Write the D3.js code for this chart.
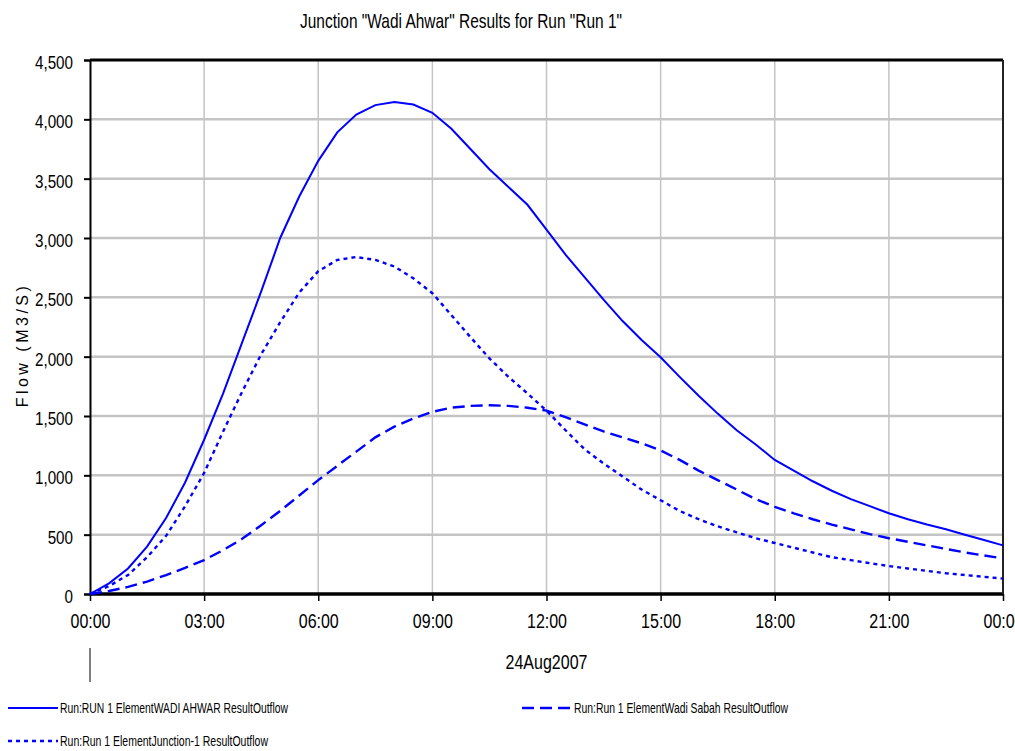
<!DOCTYPE html>
<html>
<head>
<meta charset="utf-8">
<script src="https://cdn.jsdelivr.net/npm/d3@7"></script>
<style>
  body { margin: 0; background: #fff; }
  svg text { font-family: "Liberation Sans Narrow", "Arial Narrow", "Liberation Sans", sans-serif; fill: #000; }
</style>
</head>
<body>
<div id="chart"></div>
<script>
// time in hours since 00:00 on 24Aug2007
var hours = [0,0.5,1,1.5,2,2.5,3,3.5,4,4.5,5,5.5,6,6.5,7,7.5,8,8.5,9,9.5,10,10.5,11,11.5,12,
             12.5,13,13.5,14,14.5,15,15.5,16,16.5,17,17.5,18,18.5,19,19.5,20,20.5,21,21.5,22,22.5,23,23.5,24];

// Run:RUN 1 Element WADI AHWAR (solid)
var wadiAhwar = [0,90,215,400,640,940,1300,1690,2120,2550,3000,3350,3650,3890,4040,4120,4145,4125,4055,3920,3750,3580,3430,3280,3070,
                 2860,2670,2480,2300,2140,1995,1830,1670,1520,1380,1260,1130,1040,950,870,800,740,680,630,585,545,500,455,410];

// Run:Run 1 Element Wadi Sabah (long dash)
var wadiSabah = [0,25,60,105,160,220,286,370,465,580,700,830,960,1080,1200,1320,1410,1480,1535,1570,1585,1590,1585,1570,1545,
                 1490,1430,1370,1320,1270,1210,1130,1040,960,880,800,735,680,630,585,545,505,470,440,410,380,350,325,300];

// Run:Run 1 Element Junction-1 (dotted)
var junction1 = [0,67,160,310,490,740,1020,1370,1705,2020,2290,2540,2720,2815,2840,2815,2760,2660,2535,2350,2165,1985,1830,1690,1545,
                 1380,1220,1100,990,880,790,700,630,570,520,470,430,390,350,310,285,260,235,215,195,175,160,145,130];

var xTicks = [0,3,6,9,12,15,18,21,24];
var xTickLabels = ["00:00","03:00","06:00","09:00","12:00","15:00","18:00","21:00","00:00"];
var yTicks = [0,500,1000,1500,2000,2500,3000,3500,4000,4500];

var series = [
  {name: "Run:RUN 1 ElementWADI AHWAR ResultOutflow", values: wadiAhwar, dash: null, w: 2, lx: 8, ly: 708, tl: 228},
  {name: "Run:Run 1 ElementWadi Sabah ResultOutflow", values: wadiSabah, dash: "12,6", w: 2.4, lx: 522, ly: 708, tl: 214},
  {name: "Run:Run 1 ElementJunction-1 ResultOutflow", values: junction1, dash: "4,4", w: 2.4, lx: 8, ly: 741, tl: 208}
];

var W = 1015, H = 751;
var margin = {top: 60, right: 12, bottom: 157, left: 90};
var width = W - margin.left - margin.right;
var height = H - margin.top - margin.bottom;

// squeeze a text to look like a narrow face
function narrow(sel, k) {
  sel.each(function() {
    var len = this.getComputedTextLength();
    d3.select(this).attr("textLength", len * k).attr("lengthAdjust", "spacingAndGlyphs");
  });
}

var svg = d3.select("#chart").append("svg")
    .attr("width", W)
    .attr("height", H);

var g = svg.append("g")
    .attr("transform", "translate(" + margin.left + "," + margin.top + ")");

var x = d3.scaleLinear().domain([0, 24]).range([0, width]);
var y = d3.scaleLinear().domain([0, 4500]).range([height, 0]);

// grid lines
g.selectAll(".vgrid")
  .data(xTicks.slice(1, -1))
  .enter().append("line")
    .attr("x1", function(d) { return x(d); })
    .attr("x2", function(d) { return x(d); })
    .attr("y1", 0).attr("y2", height)
    .attr("stroke", "#c4c4c4").attr("stroke-width", 1.5);

g.selectAll(".hgrid")
  .data(yTicks.slice(1, -1))
  .enter().append("line")
    .attr("x1", 0).attr("x2", width)
    .attr("y1", function(d) { return y(d); })
    .attr("y2", function(d) { return y(d); })
    .attr("stroke", "#c4c4c4").attr("stroke-width", 2.5);

// y axis
var yAxis = g.append("g")
    .call(d3.axisLeft(y).tickValues(yTicks).tickSize(6).tickFormat(d3.format(",")));
yAxis.select(".domain").attr("stroke", "#000").attr("stroke-width", 2);
yAxis.selectAll(".tick line").attr("stroke", "#000").attr("stroke-width", 2);
yAxis.selectAll(".tick text")
    .attr("x", -17).attr("dy", "0.45em")
    .style("font-size", "19px")
    .call(narrow, 0.8);

// x axis
var xAxis = g.append("g")
    .attr("transform", "translate(0," + height + ")")
    .call(d3.axisBottom(x).tickValues(xTicks).tickSize(7)
      .tickFormat(function(d, i) { return xTickLabels[i]; }));
xAxis.select(".domain").remove();
xAxis.selectAll(".tick line").attr("stroke", "#000").attr("stroke-width", 1.5);
xAxis.selectAll(".tick text")
    .attr("y", 20)
    .style("font-size", "20px")
    .call(narrow, 0.8);

// frame: thick top and bottom, right edge
g.append("line").attr("x1", 0).attr("x2", width).attr("y1", 0).attr("y2", 0)
    .attr("stroke", "#000").attr("stroke-width", 3);
g.append("line").attr("x1", 0).attr("x2", width).attr("y1", height).attr("y2", height)
    .attr("stroke", "#000").attr("stroke-width", 3.5);
g.append("line").attr("x1", width).attr("x2", width).attr("y1", 0).attr("y2", height)
    .attr("stroke", "#222").attr("stroke-width", 2);

// series lines
var line = d3.line()
    .x(function(d, i) { return x(hours[i]); })
    .y(function(d) { return y(d); });

g.selectAll(".series")
  .data(series)
  .enter().append("path")
    .attr("d", function(d) { return line(d.values); })
    .attr("fill", "none")
    .attr("stroke", "#0000ff")
    .attr("stroke-width", function(d) { return d.w; })
    .attr("stroke-dasharray", function(d) { return d.dash; });

// date label with marker
svg.append("line")
    .attr("x1", margin.left).attr("x2", margin.left)
    .attr("y1", 648).attr("y2", 682)
    .attr("stroke", "#000").attr("stroke-width", 1);
svg.append("text")
    .attr("x", margin.left + x(12)).attr("y", 669)
    .attr("text-anchor", "middle")
    .style("font-size", "20px")
    .text("24Aug2007")
    .call(narrow, 0.8);

// title
svg.append("text")
    .attr("x", 300).attr("y", 28)
    .attr("textLength", 322).attr("lengthAdjust", "spacingAndGlyphs")
    .style("font-size", "21px")
    .text("Junction \"Wadi Ahwar\" Results for Run \"Run 1\"");

// y axis title
svg.append("text")
    .attr("transform", "translate(28," + 345 + ") rotate(-90)")
    .attr("text-anchor", "middle")
    .style("font-family", "'Liberation Sans', Arial, sans-serif")
    .style("font-size", "16px")
    .style("letter-spacing", "3.5px")
    .text("Flow (M3/S)");

// legend
var leg = svg.selectAll(".legend")
  .data(series)
  .enter().append("g");
leg.append("line")
    .attr("x1", function(d) { return d.lx; })
    .attr("x2", function(d) { return d.lx + 50; })
    .attr("y1", function(d) { return d.ly; })
    .attr("y2", function(d) { return d.ly; })
    .attr("stroke", "#0000ff")
    .attr("stroke-width", function(d) { return d.w; })
    .attr("stroke-dasharray", function(d) { return d.dash; });
leg.append("text")
    .attr("x", function(d) { return d.lx + 52; })
    .attr("y", function(d) { return d.ly + 5; })
    .attr("textLength", function(d) { return d.tl; })
    .attr("lengthAdjust", "spacingAndGlyphs")
    .style("font-size", "15px")
    .text(function(d) { return d.name; });
</script>
</body>
</html>
